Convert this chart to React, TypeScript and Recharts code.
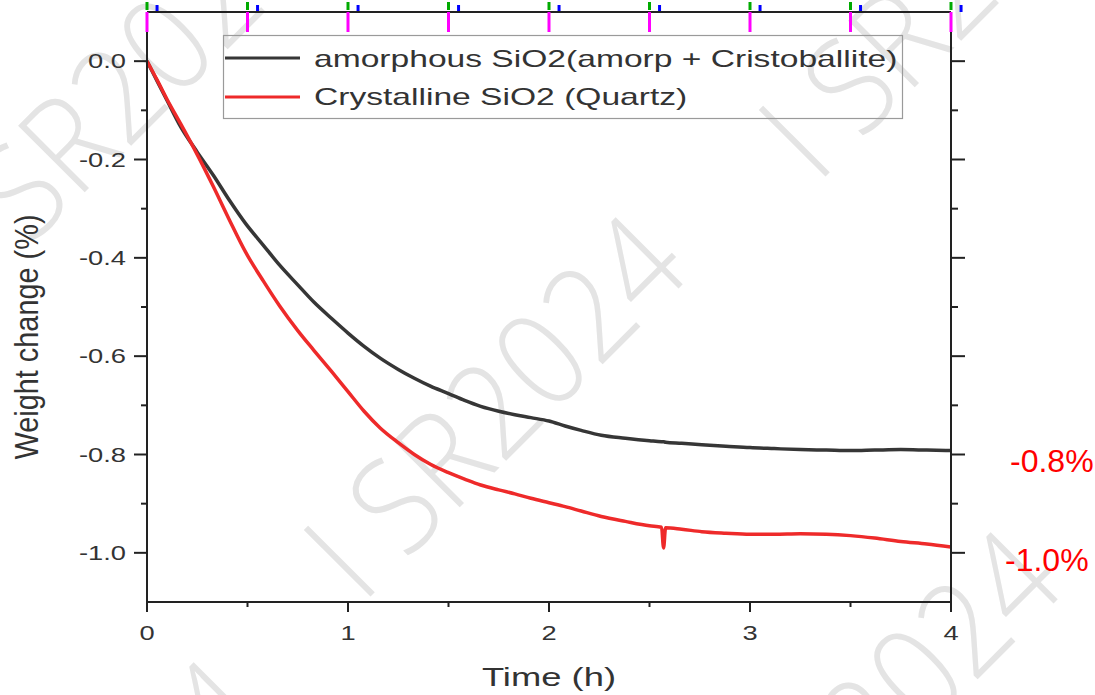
import React from 'react';
import { LineChart, Line, XAxis, YAxis, Legend, ReferenceLine, Label, Customized } from 'recharts';

const times = [
  0, 0.05, 0.1, 0.16, 0.25, 0.33, 0.41, 0.49, 0.58, 0.66, 0.75, 0.83, 0.92, 1.0,
  1.08, 1.16, 1.25, 1.33, 1.41, 1.5, 1.58, 1.66, 1.75, 1.83, 1.91, 2.0, 2.08, 2.16,
  2.26, 2.38, 2.5, 2.56, 2.57, 2.58, 2.66, 2.76, 2.88, 3.0, 3.12, 3.25, 3.38, 3.5,
  3.62, 3.75, 3.88, 4.0,
];
const amorphous = [
  0, -0.04, -0.08, -0.128, -0.185, -0.232, -0.283, -0.33, -0.375, -0.415, -0.455, -0.49, -0.524, -0.553,
  -0.58, -0.604, -0.627, -0.645, -0.661, -0.676, -0.69, -0.702, -0.712, -0.719, -0.725, -0.732, -0.742, -0.751,
  -0.761, -0.767, -0.772, -0.774, -0.774, -0.775, -0.777, -0.78, -0.783, -0.786, -0.788, -0.79, -0.791, -0.792,
  -0.791, -0.79, -0.791, -0.792,
];
const crystalline = [
  0, -0.038, -0.078, -0.122, -0.19, -0.255, -0.323, -0.388, -0.448, -0.498, -0.548, -0.588, -0.632, -0.672,
  -0.712, -0.746, -0.776, -0.8, -0.82, -0.837, -0.85, -0.862, -0.872, -0.88, -0.889, -0.898, -0.906, -0.915,
  -0.926, -0.936, -0.945, -0.948, -0.99, -0.949, -0.952, -0.957, -0.96, -0.962, -0.962, -0.961, -0.962, -0.965,
  -0.97, -0.977, -0.982, -0.988,
];
const seriesNames = ['amorphous SiO2(amorp + Cristoballite)', 'Crystalline SiO2 (Quartz)'];
const xTicks = [0, 0.5, 1, 1.5, 2, 2.5, 3, 3.5, 4];
const yTicks = [0, -0.1, -0.2, -0.3, -0.4, -0.5, -0.6, -0.7, -0.8, -0.9, -1.0];
const yDomain = [-1.1, 0.1];
const xLabel = 'Time (h)';
const yLabel = 'Weight change (%)';
const annotationValues = [-0.8, -1.0];
const annotationTexts = ['-0.8%', '-1.0%'];
const watermarkText = 'I SR2024';

const data = times.map((t, i) => ({ t, a: amorphous[i], c: crystalline[i] }));

const FONT = "'Liberation Sans', Arial, Helvetica, sans-serif";
const AX = '#222222';
const TXT = '#333333';
const STRETCH = 'scale(1.4,1)';
const PLOT_H = 590;
const TOP_TICK = 7 * (1.2 / PLOT_H);

const isMajorY = (v: number) => Math.round(Math.abs(v) * 10) % 2 === 0;

const LeftTick = (props: any) => {
  const { x, y, payload } = props;
  const v = payload.value as number;
  const major = isMajorY(v);
  return (
    <g transform={`translate(${x},${y})`}>
      <line x1={major ? -13 : -6} x2={0} y1={0} y2={0} stroke={AX} strokeWidth={2} />
      {major && (
        <g transform={`translate(-21,7) ${STRETCH}`}>
          <text x={0} y={0} textAnchor="end" fontSize={19.5} fill={TXT} fontFamily={FONT}>
            {Math.abs(v) < 1e-9 ? '0.0' : v.toFixed(1)}
          </text>
        </g>
      )}
    </g>
  );
};

const RightTick = (props: any) => {
  const { x, y, payload } = props;
  const major = isMajorY(payload.value);
  return <line x1={x} x2={x + (major ? 14 : 7)} y1={y} y2={y} stroke={AX} strokeWidth={2} />;
};

const BottomTick = (props: any) => {
  const { x, y, payload } = props;
  const v = payload.value as number;
  const major = Number.isInteger(v);
  return (
    <g transform={`translate(${x},${y})`}>
      <line x1={0} x2={0} y1={0} y2={major ? 10 : 5} stroke={AX} strokeWidth={2} />
      <line x1={0} x2={0} y1={-PLOT_H} y2={-PLOT_H + 20} stroke="#ff00ff" strokeWidth={3} />
      <line x1={0} x2={0} y1={-PLOT_H - 2} y2={-PLOT_H - 10} stroke="#00aa00" strokeWidth={3} />
      {major && (
        <g transform={`translate(0,38) ${STRETCH}`}>
          <text x={0} y={0} textAnchor="middle" fontSize={19.5} fill={TXT} fontFamily={FONT}>
            {String(v)}
          </text>
        </g>
      )}
    </g>
  );
};

const XTitle = (props: any) => {
  const vb = props.viewBox || { x: 147, y: 602, width: 804, height: 40 };
  return (
    <g transform={`translate(${vb.x + vb.width / 2},${vb.y + 84}) ${STRETCH}`}>
      <text x={0} y={0} textAnchor="middle" fontSize={26} fill={TXT} fontFamily={FONT}>
        {xLabel}
      </text>
    </g>
  );
};

const YTitle = (props: any) => {
  const vb = props.viewBox || { x: 87, y: 12, width: 60, height: 590 };
  return (
    <g transform={`translate(${vb.x - 49},${vb.y + vb.height / 2 + 30}) scale(1.35,1) rotate(-90)`}>
      <text x={0} y={0} textAnchor="middle" fontSize={24} fill={TXT} fontFamily={FONT} textLength={245} lengthAdjust="spacingAndGlyphs">
        {yLabel}
      </text>
    </g>
  );
};

const annotationDx = [59, 54];
const annotationDy = [17.5, 18];
const makeAnnotation = (i: number) => (props: any) => {
  const vb = props.viewBox || { x: 147, y: 0, width: 804 };
  return (
    <text x={vb.x + vb.width + annotationDx[i]} y={vb.y + annotationDy[i]} fontSize={32} fill="#ff0000" fontFamily={FONT}>
      {annotationTexts[i]}
    </text>
  );
};

const LegendBox = (props: any) => {
  const payload = props.payload || [];
  return (
    <svg width={680} height={84} style={{ display: 'block', overflow: 'visible' }}>
      <rect x={0.5} y={0.5} width={679} height={83} fill="none" stroke="#9a9a9a" strokeWidth={1.2} />
      {payload.map((p: any, i: number) => (
        <g key={i}>
          <line x1={2} x2={77} y1={23 + i * 39} y2={23 + i * 39} stroke={p.color} strokeWidth={3} />
          <g transform={`translate(91,${32 + i * 38}) ${STRETCH}`}>
            <text x={0} y={0} fontSize={24} fill={TXT} fontFamily={FONT}>
              {p.value}
            </text>
          </g>
        </g>
      ))}
    </svg>
  );
};

const WM_POS = [
  [362, 605],
  [-13, 290],
  [817, 185],
  [737, 920],
  [-60, 1050],
];
const Watermark = () => (
  <g pointerEvents="none">
    {WM_POS.map(([px, py], i) => (
      <text
        key={i}
        transform={`translate(${px},${py}) rotate(-45)`}
        fontSize={132}
        fill="#e4e4e4"
        fontFamily="'Open Sans', 'Liberation Sans', sans-serif"
        fontWeight={300}
        textLength={470}
        lengthAdjust="spacingAndGlyphs"
      >
        {watermarkText}
      </text>
    ))}
  </g>
);

export default function App() {
  return (
    <div style={{ position: 'absolute', left: 0, top: 0, width: 1095, height: 695, background: '#ffffff' }}>
      <LineChart width={1095} height={695} data={data} margin={{ top: 8, right: 124, bottom: 53, left: 87 }}>
        <Customized component={Watermark} />
        <XAxis
          dataKey="t"
          type="number"
          domain={[0, 4]}
          ticks={xTicks}
          interval={0}
          allowDataOverflow
          height={40}
          tickSize={0}
          tickMargin={0}
          tickLine={false}
          axisLine={{ stroke: AX, strokeWidth: 2 }}
          tick={<BottomTick />}
        >
          <Label content={<XTitle />} />
        </XAxis>
        <XAxis
          xAxisId="top"
          orientation="top"
          dataKey="t"
          type="number"
          domain={[0, 4]}
          allowDataOverflow
          height={4}
          tick={false}
          tickLine={false}
          axisLine={{ stroke: AX, strokeWidth: 2 }}
        />
        <YAxis
          type="number"
          domain={yDomain}
          ticks={yTicks}
          interval={0}
          allowDataOverflow
          width={60}
          tickSize={0}
          tickMargin={0}
          tickLine={false}
          axisLine={{ stroke: AX, strokeWidth: 2 }}
          tick={<LeftTick />}
        >
          <Label content={<YTitle />} />
        </YAxis>
        <YAxis
          yAxisId="right"
          orientation="right"
          type="number"
          domain={yDomain}
          ticks={yTicks}
          interval={0}
          allowDataOverflow
          width={20}
          tickSize={0}
          tickMargin={0}
          tickLine={false}
          axisLine={{ stroke: AX, strokeWidth: 2 }}
          tick={<RightTick />}
        />
        {xTicks.map((t) => (
          <ReferenceLine
            key={`top-${t}`}
            segment={[
              { x: t + 0.05, y: yDomain[1] },
              { x: t + 0.05, y: yDomain[1] + TOP_TICK },
            ]}
            ifOverflow="visible"
            stroke="#0000ff"
            strokeWidth={3}
          />
        ))}
        {annotationValues.map((v, i) => (
          <ReferenceLine key={i} y={v} stroke="none" label={makeAnnotation(i)} />
        ))}
        <Line type="monotone" dataKey="a" name={seriesNames[0]} stroke="#363636" strokeWidth={3.5} dot={false} isAnimationActive={false} />
        <Line type="monotone" dataKey="c" name={seriesNames[1]} stroke="#ee2a2a" strokeWidth={3.5} dot={false} isAnimationActive={false} />
        <Legend
          layout="horizontal"
          verticalAlign="middle"
          align="center"
          itemSorter="dataKey"
          content={<LegendBox />}
          wrapperStyle={{ position: 'absolute', left: 223, top: 35, width: 680, height: 84 }}
        />
      </LineChart>
    </div>
  );
}
